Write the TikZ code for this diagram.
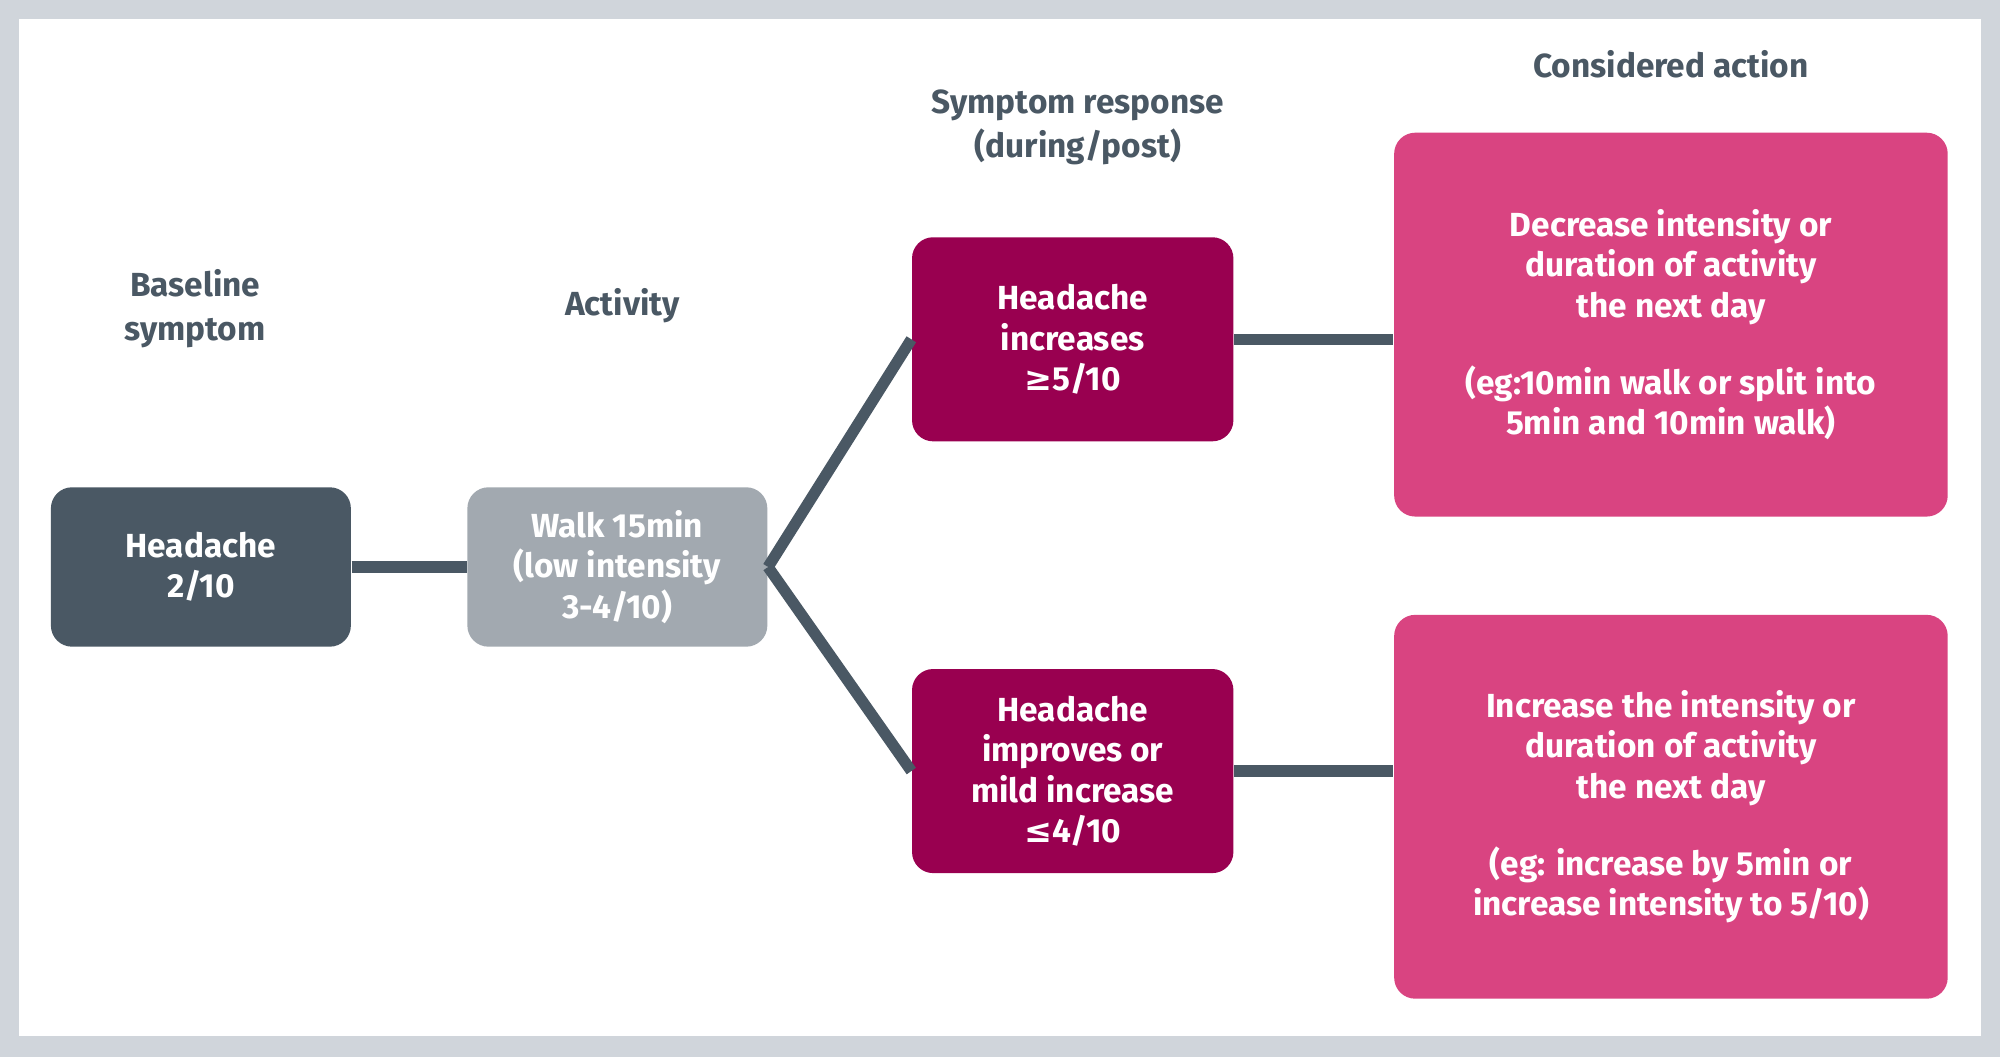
\documentclass[tikz,border=0pt]{standalone}
\usepackage{fontspec}
\setmainfont{Fira Sans}
\usetikzlibrary{positioning}
\definecolor{slate}{RGB}{74, 88, 100}
\definecolor{mist}{RGB}{162, 169, 176}
\definecolor{berry}{RGB}{153, 0, 80}
\definecolor{rose}{RGB}{217, 68, 129}
\definecolor{frame}{RGB}{208, 213, 219}
\tikzset{
  box/.style={rounded corners=6pt, text=white, align=center, font=\bfseries\fontsize{9.5}{11.5}\selectfont, inner sep=2pt},
  head/.style={text=slate, align=center, font=\bfseries\fontsize{9.5}{12.5}\selectfont},
  link/.style={slate, line width=3.2pt}
}
\begin{document}
\begin{tikzpicture}[x=0.012755cm, y=-0.012755cm]
    % Frame
    \fill[frame] (0,0) rectangle (1568,829);
    \fill[white] (15,15) rectangle (1553,812);

    % Headers
    \node[head] (hbase) at (153,242) {Baseline\\symptom};
    \node[head] (hact) at (488,240) {Activity};
    \node[head] (hresp) at (845,100) {Symptom response\\(during/post)};
    \node[head] (hcons) at (1310,50) {Considered action};

    % Boxes
    \node[box, fill=slate, minimum width=3cm, minimum height=1.594cm] (base) at (157.5,444.5) {Headache\\2/10};
    \node[box, fill=mist, minimum width=3cm, minimum height=1.594cm] (walk) at (484,444.5) {Walk 15min\\(low intensity\\3-4/10)};
    \node[box, fill=berry, minimum width=3.214cm, minimum height=2.041cm] (worse) at (841,266) {Headache\\increases\\{\fontspec{DejaVu Sans}≥}5/10};
    \node[box, fill=berry, minimum width=3.214cm, minimum height=2.041cm] (better) at (841,604.5) {Headache\\improves or\\mild increase\\{\fontspec{DejaVu Sans}≤}4/10};
    \node[box, fill=rose, minimum width=5.536cm, minimum height=3.839cm] (less) at (1310,254.5) {Decrease intensity or\\duration of activity\\the next day\\[1.1em](eg:10min walk or split into\\5min and 10min walk)};
    \node[box, fill=rose, minimum width=5.536cm, minimum height=3.839cm] (more) at (1310,632.5) {Increase the intensity or\\duration of activity\\the next day\\[1.1em](eg: increase by 5min or\\increase intensity to 5/10)};

    % Connectors
    \draw[link] (base.east) -- (walk.east -| walk.west);
    \draw[link] (walk.east) -- (worse.west);
    \draw[link] (walk.east) -- (better.west);
    \draw[link] (worse.east) -- (worse.east -| less.west);
    \draw[link] (better.east) -- (better.east -| more.west);
\end{tikzpicture}
\end{document}
